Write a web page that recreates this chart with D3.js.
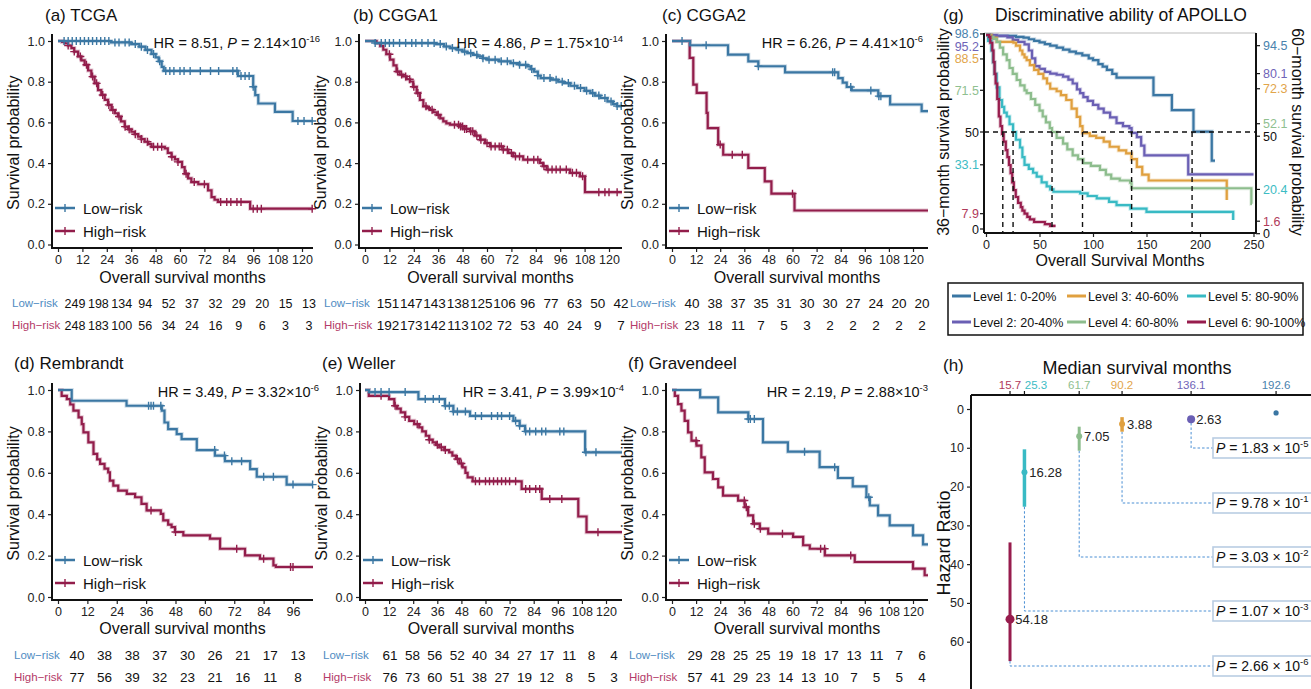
<!DOCTYPE html>
<html><head><meta charset="utf-8">
<script src="https://cdn.jsdelivr.net/npm/d3@7"></script>
<style>body{margin:0;background:#fff}</style>
</head><body><script>
// ---------------- DATA ----------------
const panelTitles = ["(a) TCGA","(b) CGGA1","(c) CGGA2","(d) Rembrandt","(e) Weller","(f) Gravendeel"];
const hrValues = ["8.51","4.86","6.26","3.49","3.41","2.19"];
const pMantissa = ["2.14","1.75","4.41","3.32","3.99","2.88"];
const pExponent = ["-16","-14","-6","-6","-4","-3"];
const ticks120 = [0,12,24,36,48,60,72,84,96,108,120];
const ticks96 = [0,12,24,36,48,60,72,84,96];
const yTicks = [0,0.2,0.4,0.6,0.8,1.0];
const groupNames = ["Low\u2212risk","High\u2212risk"];

// KM step data: [month, survival]
const tcgaLow = [[0,1],[26,0.993],[36,0.985],[40,0.972],[43,0.956],[46,0.936],[48,0.92],[49.5,0.9],[51,0.873],[52,0.853],[88.5,0.828],[96,0.775],[97,0.734],[98.5,0.693],[106.7,0.652],[115.4,0.607]];
const tcgaHigh = [[0,1],[2,0.995],[3.3,0.989],[5,0.978],[6.6,0.965],[8,0.948],[9.9,0.924],[11.5,0.905],[13.1,0.883],[14.8,0.855],[16.4,0.825],[18,0.792],[19.7,0.759],[21.3,0.735],[23,0.711],[24.6,0.686],[26.3,0.661],[28,0.645],[29.5,0.629],[31,0.605],[32.8,0.579],[34.5,0.566],[36.1,0.554],[37.7,0.542],[39.4,0.53],[41,0.518],[42.6,0.505],[44.3,0.493],[46,0.48],[52.5,0.472],[54,0.45],[55.8,0.431],[57.5,0.418],[59,0.406],[61,0.38],[62.3,0.348],[64,0.325],[65.6,0.307],[69,0.296],[73.8,0.266],[75.5,0.233],[77,0.22],[78.7,0.209],[94.5,0.176]];
const tcgaLowCensor = [3,5,7,9,11,13,15,17,19,21,23,25,28,30,33,35,38,41,44,47,50,53,55,57,60,62,65,70,75,79,86,88,90,92,94,96,118,121,125];
const tcgaHighCensor = [5,8,11,14,17,19,22,25,27,30,33,35,38,41,44,47,49,51,56,59,63,67,72,80,83,85,88,90,96,98,100,125];

const cgga1Low = [[0,1],[5,0.99],[35,0.985],[38.9,0.973],[42,0.965],[45.4,0.957],[48,0.948],[50.3,0.94],[53,0.932],[55.3,0.924],[58,0.915],[60.2,0.908],[66,0.9],[71.6,0.891],[76,0.883],[79.8,0.875],[81.5,0.862],[83.1,0.85],[85,0.83],[86.4,0.818],[91.3,0.81],[95,0.8],[97.8,0.793],[101,0.78],[104.4,0.769],[108,0.755],[110.9,0.744],[113,0.732],[115.8,0.72],[119.2,0.703],[122,0.69],[124,0.68]];
const cgga1High = [[0,1],[5.7,0.99],[7.5,0.975],[9,0.957],[10.5,0.935],[12.3,0.908],[14,0.88],[15.5,0.85],[17,0.835],[18.8,0.826],[20.5,0.812],[22.1,0.801],[23.7,0.775],[25.4,0.744],[27,0.71],[28.7,0.679],[30.3,0.67],[31.9,0.662],[33.6,0.65],[35.3,0.637],[37,0.62],[38.5,0.605],[40,0.595],[41.8,0.589],[46.7,0.58],[49,0.568],[51.6,0.556],[54,0.535],[56.6,0.515],[59,0.498],[61.5,0.482],[68,0.466],[70.5,0.45],[72.9,0.433],[77.8,0.417],[86,0.401],[87.5,0.385],[89.3,0.368],[100.8,0.352],[105.7,0.335],[108.2,0.257]];
const cgga1LowCensor = [5,8,10,12,14,17,20,23,25,28,31,34,37,40,43,46,49,52,55,58,61,64,67,70,73,76,79,82,85,88,91,94,97,100,103,106,109,112,115,118,121,124,126];
const cgga1HighCensor = [12,16,18,20,22,24,26,30,33,36,44,46,47,48,49,50,52,53,55,57,60,62,64,66,67,68,70,72,74,76,80,83,85,88,90,92,94,96,99,102,104,107,115,118,120,124];

const cgga2Low = [[0,1],[9,0.979],[27.9,0.933],[38,0.9],[43,0.876],[56.3,0.846],[82.8,0.818],[85,0.795],[87,0.774],[89.5,0.757],[102.7,0.729],[108.6,0.688],[124.3,0.655]];
const cgga2High = [[0,1],[8.8,0.917],[10.6,0.786],[12.3,0.745],[17.2,0.647],[17.8,0.572],[23,0.491],[25.5,0.441],[38,0.376],[46.2,0.31],[49.5,0.25],[61,0.167]];
const cgga2LowCensor = [5,17,43,80,81,89,99,103,104];
const cgga2HighCensor = [24,30,35,60];

const rembLow = [[0,1],[5.6,0.948],[28,0.924],[42.4,0.9],[43.5,0.843],[45,0.811],[48.5,0.787],[50.5,0.763],[56.7,0.71],[64.1,0.683],[68.2,0.656],[78.5,0.618],[81.2,0.581],[93.4,0.543]];
const rembHigh = [[0,1],[1.5,0.972],[3.6,0.956],[5,0.93],[6.3,0.9],[8.4,0.868],[9.7,0.835],[10.4,0.795],[12.4,0.747],[14.5,0.691],[16,0.665],[17.2,0.643],[19,0.62],[20.5,0.602],[21.2,0.562],[22.6,0.538],[24.6,0.514],[28.1,0.498],[31.5,0.482],[34.1,0.45],[36.2,0.418],[42,0.402],[43,0.37],[45,0.35],[46.4,0.338],[47.8,0.314],[51.2,0.298],[62.1,0.282],[66.2,0.233],[76.4,0.201],[82.5,0.185],[88,0.153],[89,0.145]];
const rembLowCensor = [37,38,39,42,64,68,71,75,84,88,96,104];
const rembHighCensor = [38,48,73,84,95,96];

const wellerLow = [[0,1],[2,0.99],[26.6,0.956],[39.8,0.924],[44,0.896],[52.3,0.875],[73.9,0.851],[77,0.827],[79.7,0.8],[109.6,0.699]];
const wellerHigh = [[0,1],[1.9,0.972],[12,0.956],[14.6,0.924],[16,0.91],[17.8,0.892],[20,0.87],[22,0.851],[24.5,0.835],[27,0.819],[28.5,0.8],[30.3,0.779],[32,0.76],[33.7,0.747],[35.3,0.735],[37,0.723],[39.5,0.71],[41.9,0.699],[43.5,0.683],[45.3,0.667],[47,0.645],[48.6,0.626],[50,0.6],[51.1,0.578],[53.6,0.559],[78,0.522],[88,0.474],[106.2,0.389],[110.3,0.313]];
const wellerLowCensor = [5,8,12,20,30,34,37,40,42,44,46,50,55,58,63,66,68,72,75,77,80,82,85,88,90,97,99,110,115];
const wellerHighCensor = [8,15,20,26,32,36,38,40,46,48,55,57,60,62,64,66,68,70,72,75,80,82,85,87,92,98,116];

const gravLow = [[0,1],[14,0.964],[23,0.892],[38,0.86],[45.3,0.747],[57.7,0.702],[73.5,0.627],[82.6,0.575],[90,0.534],[96.8,0.482],[98.5,0.442],[102.6,0.394],[108.4,0.346],[120,0.298],[125,0.254]];
const gravHigh = [[0,1],[1.4,0.972],[3,0.932],[4.7,0.9],[6.3,0.851],[8,0.795],[9.7,0.755],[12.2,0.731],[14.6,0.675],[16.3,0.602],[20.4,0.57],[23,0.53],[25.4,0.49],[32.9,0.466],[36.2,0.434],[37.9,0.394],[40.4,0.354],[43.7,0.33],[47.9,0.306],[60.3,0.29],[65.3,0.25],[68.6,0.233],[76.1,0.201],[91,0.169],[120,0.137],[125.8,0.105]];
const gravLowCensor = [38,39,41,66,81,98];
const gravHighCensor = [12,36,37,41,44,55,74,76,89];

// Numbers at risk
const tcgaRiskLow = [249,198,134,94,52,37,32,29,20,15,13];
const tcgaRiskHigh = [248,183,100,56,34,24,16,9,6,3,3];
const cgga1RiskLow = [151,147,143,138,125,106,96,77,63,50,42];
const cgga1RiskHigh = [192,173,142,113,102,72,53,40,24,9,7];
const cgga2RiskLow = [40,38,37,35,31,30,30,27,24,20,20];
const cgga2RiskHigh = [23,18,11,7,5,3,2,2,2,2,2];
const rembRiskLow = [40,38,38,37,30,26,21,17,13];
const rembRiskHigh = [77,56,39,32,23,21,16,11,8];
const wellerRiskLow = [61,58,56,52,40,34,27,17,11,8,4];
const wellerRiskHigh = [76,73,60,51,38,27,19,12,8,5,3];
const gravRiskLow = [29,28,25,25,19,18,17,13,11,7,6];
const gravRiskHigh = [57,41,29,23,14,13,10,7,5,5,4];

// Panel (g): APOLLO levels
const levelNames = ["Level 1: 0-20%","Level 2: 20-40%","Level 3: 40-60%","Level 4: 60-80%","Level 5: 80-90%","Level 6: 90-100%"];
const level1 = [[0,100],[5,99.5],[28,99],[35,98.6],[40,97.8],[45,97],[50,96.2],[55,95.3],[60,94.5],[66,93.5],[72,92.5],[78,91.4],[84,90.5],[90,89.5],[96,88],[100,87],[105,85],[109,83.7],[113,82],[118,80],[122,78],[156.5,69],[173.7,61.3],[193.9,50.2],[211,35.2]];
const level2 = [[0,100],[10,99.5],[20,98.8],[25,97.5],[30,96.5],[36,95.2],[40,92],[43,88],[46,84],[50,82.5],[55,81],[60,80.1],[66,79.5],[72,78.5],[77,77],[81,75],[85,72],[88,70],[91,68],[95,66],[100,64],[105,62],[110,60],[116,57.5],[122,54.6],[128,53],[134,52],[136.1,49.5],[141,47.4],[145,43],[148,38],[189,28.2]];
const level3 = [[0,100],[5,98.5],[10,96.5],[25.6,96],[28,94.5],[31.8,92],[34,90],[36,88.5],[38,87],[41,84.5],[45,82],[49,80],[53.6,77.6],[57,75],[60,72.3],[66,71],[70,69],[75,66.5],[80,62],[84.8,57.8],[88,53],[90.2,49.4],[97,48],[103,47],[110,45],[115.6,42.4],[124,40.5],[131,39],[136,36],[141,32],[146,28],[152,25],[225,15]];
const level4 = [[0,100],[3.7,99],[7,98],[10,96.5],[13,93.5],[16,90],[19.4,87],[22,83],[25,80],[28.7,76.8],[32,74],[36,71.5],[38,70],[42,67],[46,64],[50,61],[53,58],[56,55],[59.6,52],[61.7,50],[66,47],[72,44],[76,41],[81,38],[86,36],[91,34],[98,32.5],[106.5,30.5],[112,28],[117,26],[125,25],[134.7,23.9],[136,21],[248,13]];
const level5 = [[0,100],[2,97],[5,92],[6.5,86],[8,80],[10,73],[12.6,66.5],[15,63],[17,60],[19.4,58],[22,54],[25.3,50],[28,46],[31.8,42],[34,37],[36,33.1],[40,31],[44,29],[47.4,27],[52,24],[56.7,22],[60,20.4],[63,19.2],[88,18.4],[95,17],[103.5,15.8],[115,14],[122,12.3],[135,10.5],[150,8.8],[231,4.6]];
const level6 = [[0,100],[2.8,99],[4,96],[5.9,92],[7,86],[8,80],[9,75],[10.5,67],[12,58],[13.5,53],[15,49],[16.5,45],[18.5,40.7],[20,37],[21.5,33],[23,28.8],[24.5,24],[26,20],[27.8,16.5],[30,13.5],[32.5,11.3],[34,9.5],[36,7.9],[38.6,6.2],[41,5],[45,3.6],[55,2.5],[60,1.6]];
const levelLastTime = [214,250,225,248.5,231,65];
const surv36Labels = [98.6,95.2,88.5,71.5,33.1,7.9];
const surv60Labels = [94.5,80.1,72.3,52.1,20.4,1.6];
const gXTicks = [0,50,100,150,200,250];

// Panel (h)
const medianMonths = [192.6,136.1,90.2,61.7,25.3,15.7];
const hazardRatio = [1,2.63,3.88,7.05,16.28,54.18];
const hrLower = [1,1.8,2.1,4.56,10.4,34.4];
const hrUpper = [1,3.6,5.85,10.75,25.2,65];
const hrYTicks = [0,10,20,30,40,50,60];
const pBoxMantissa = ["1.83","9.78","3.03","1.07","2.66"];
const pBoxExponent = ["-5","-1","-2","-3","-6"];

// ---------------- STYLE / LAYOUT ----------------
const FONT = "'Liberation Sans', Arial, Helvetica, sans-serif";
const LOW_COL = "#3b77a3", HIGH_COL = "#921d4b";
const LOW_LBL = "#4f8cc2", HIGH_LBL = "#b43b69";
const levelColors = ["#3a76a3","#6a5fb4","#e0a03f","#8dbd8d","#38bac4","#971c4d"];
const levelLabelColors = ["#4a82ad","#6f64b8","#e2a54a","#8fc08f","#3cbcc4","#b03a5b"];

const rows = [
  {y1:41, y0:244.5, axY:248, axTop:34, tickLblY:262, titleY:283, legLow:208, legHigh:231, riskLow:308, riskHigh:330, titleBase:21, hrY:48},
  {y1:390, y0:597, axY:600, axTop:383, tickLblY:616, titleY:634, legLow:560, legHigh:583, riskLow:660, riskHigh:682, titleBase:369, hrY:397}
];
const layout = [
  {tx:45, row:0, ax:52, x0:58, xT:302, tMax:120, xEnd:313, hrX:320, lblX:12, rx0:75, rxT:309, rf:12.5},
  {tx:353, row:0, ax:359, x0:365, xT:609, tMax:120, xEnd:622, hrX:623, lblX:324, rx0:388, rxT:621, rf:13.5},
  {tx:662, row:0, ax:666, x0:672, xT:913, tMax:120, xEnd:928, hrX:923, lblX:630, rx0:692, rxT:922, rf:13.5},
  {tx:14, row:1, ax:52, x0:58, xT:293, tMax:96, xEnd:313, hrX:319, lblX:14, rx0:77, rxT:298, rf:13.5},
  {tx:322, row:1, ax:360, x0:365, xT:606, tMax:120, xEnd:622, hrX:624, lblX:323, rx0:390, rxT:614, rf:13.5},
  {tx:628, row:1, ax:666, x0:672, xT:913, tMax:120, xEnd:928, hrX:928, lblX:629, rx0:695, rxT:922, rf:13.5}
];
const kmData = [
  [tcgaLow,tcgaHigh,tcgaLowCensor,tcgaHighCensor,tcgaRiskLow,tcgaRiskHigh,ticks120],
  [cgga1Low,cgga1High,cgga1LowCensor,cgga1HighCensor,cgga1RiskLow,cgga1RiskHigh,ticks120],
  [cgga2Low,cgga2High,cgga2LowCensor,cgga2HighCensor,cgga2RiskLow,cgga2RiskHigh,ticks120],
  [rembLow,rembHigh,rembLowCensor,rembHighCensor,rembRiskLow,rembRiskHigh,ticks96],
  [wellerLow,wellerHigh,wellerLowCensor,wellerHighCensor,wellerRiskLow,wellerRiskHigh,ticks120],
  [gravLow,gravHigh,gravLowCensor,gravHighCensor,gravRiskLow,gravRiskHigh,ticks120]
];

const svg = d3.select("body").append("svg").attr("width",1311).attr("height",689)
  .style("font-family", FONT);

function survAt(steps, t){ let s = steps[0][1]; for (const p of steps){ if (p[0] <= t) s = p[1]; } return s; }
function plus(g, cx, cy, r, col){
  g.append("path").attr("d",`M${cx-r},${cy}H${cx+r}M${cx},${cy-r}V${cy+r}`)
    .attr("stroke",col).attr("stroke-width",1.4).attr("fill","none");
}
function styleAxis(ag, size){
  ag.select(".domain").remove();
  ag.selectAll("text").attr("font-family",FONT).attr("font-size",size).attr("fill","#222");
  ag.selectAll("line").attr("stroke","#222").attr("stroke-width",1.2);
}

// ---------------- KM PANELS ----------------
function drawKM(i){
  const L = layout[i], R = rows[L.row];
  const [lowS, highS, lowC, highC, riskL, riskH, ticks] = kmData[i];
  const g = svg.append("g");
  const x = d3.scaleLinear().domain([0,L.tMax]).range([L.x0,L.xT]);
  const y = d3.scaleLinear().domain([0,1]).range([R.y0,R.y1]);
  const tEnd = x.invert(L.xEnd);

  g.append("text").attr("x",L.tx).attr("y",R.titleBase).attr("font-size",17).attr("fill","#111").text(panelTitles[i]);

  const xa = g.append("g").attr("transform",`translate(0,${R.axY})`)
    .call(d3.axisBottom(x).tickValues(ticks).tickSize(4).tickPadding(3));
  styleAxis(xa, 12.5);
  const ya = g.append("g").attr("transform",`translate(${L.ax},0)`)
    .call(d3.axisLeft(y).tickValues(yTicks).tickFormat(d3.format(".1f")).tickSize(4).tickPadding(3));
  styleAxis(ya, 12.5);
  g.append("line").attr("x1",L.ax).attr("x2",L.xEnd).attr("y1",R.axY).attr("y2",R.axY).attr("stroke","#111").attr("stroke-width",2);
  g.append("line").attr("x1",L.ax).attr("x2",L.ax).attr("y1",R.axTop).attr("y2",R.axY+1).attr("stroke","#111").attr("stroke-width",2);

  g.append("text").attr("x",(L.ax+L.xEnd)/2).attr("y",R.titleY).attr("text-anchor","middle").attr("font-size",16).attr("fill","#111").text("Overall survival months");
  g.append("text").attr("transform",`translate(${L.ax-33},${(R.y0+R.y1)/2}) rotate(-90)`).attr("text-anchor","middle").attr("font-size",16).attr("fill","#111").text("Survival probability");

  const line = d3.line().x(d=>x(d[0])).y(d=>y(d[1])).curve(d3.curveStepAfter);
  [[highS,highC,HIGH_COL],[lowS,lowC,LOW_COL]].forEach(([s,c,col])=>{
    const pts = s.concat([[tEnd, s[s.length-1][1]]]);
    g.append("path").attr("d",line(pts)).attr("fill","none").attr("stroke",col).attr("stroke-opacity",0.25).attr("stroke-width",4);
    g.append("path").attr("d",line(pts)).attr("fill","none").attr("stroke",col).attr("stroke-width",2.2);
    c.filter(t=>t<=tEnd).forEach(t=>plus(g, x(t), y(survAt(s,t)), 4, col));
  });

  // HR text
  const ht = g.append("text").attr("x",L.hrX).attr("y",R.hrY).attr("text-anchor","end").attr("font-size",14.5).attr("fill","#111");
  ht.append("tspan").text(`HR = ${hrValues[i]}, `);
  ht.append("tspan").attr("font-style","italic").text("P");
  ht.append("tspan").text(` = ${pMantissa[i]}\u00d710`);
  ht.append("tspan").attr("font-size",9.5).attr("dy",-6).text(pExponent[i]);

  // legend
  [[R.legLow,LOW_COL,groupNames[0]],[R.legHigh,HIGH_COL,groupNames[1]]].forEach(([ly,col,name])=>{
    g.append("line").attr("x1",L.ax+3).attr("x2",L.ax+23).attr("y1",ly).attr("y2",ly).attr("stroke",col).attr("stroke-width",2.5);
    plus(g, L.ax+13, ly, 4, col);
    g.append("text").attr("x",L.ax+31).attr("y",ly+5.5).attr("font-size",15).attr("fill","#111").text(name);
  });

  // risk table
  const rx = d3.scaleLinear().domain([0,L.tMax]).range([L.rx0,L.rxT]);
  [[R.riskLow,riskL,LOW_LBL,groupNames[0]],[R.riskHigh,riskH,HIGH_LBL,groupNames[1]]].forEach(([ry,vals,col,name])=>{
    g.append("text").attr("x",L.lblX).attr("y",ry-1).attr("font-size",11.5).attr("fill",col).text(name);
    g.selectAll(null).data(vals).enter().append("text")
      .attr("x",(d,k)=>rx(ticks[k])).attr("y",ry).attr("text-anchor","middle")
      .attr("font-size",L.rf).attr("fill","#111").text(d=>d);
  });
}
for (let i=0;i<6;i++) drawKM(i);

// ---------------- PANEL (g) ----------------
(function(){
  const g = svg.append("g");
  const gx = d3.scaleLinear().domain([0,250]).range([986,1253.5]);
  const gy = d3.scaleLinear().domain([0,100]).range([229,35]);
  const left=984, right=1256, top=33, bottom=233;
  g.append("text").attr("x",943).attr("y",21).attr("font-size",17).attr("fill","#111").text("(g)");
  g.append("text").attr("x",1121).attr("y",21).attr("text-anchor","middle").attr("font-size",17.5).attr("fill","#111").text("Discriminative ability of APOLLO");
  g.append("line").attr("x1",left).attr("x2",right).attr("y1",top).attr("y2",top).attr("stroke","#bbb").attr("stroke-width",1);

  const levels = [level1,level2,level3,level4,level5,level6];
  const line = d3.line().x(d=>gx(d[0])).y(d=>gy(d[1])).curve(d3.curveStepAfter);
  levels.forEach((s,k)=>{
    const pts = s.concat([[levelLastTime[k], s[s.length-1][1]]]);
    g.append("path").attr("d",line(pts)).attr("fill","none").attr("stroke",levelColors[k]).attr("stroke-opacity",0.25).attr("stroke-width",4);
    g.append("path").attr("d",line(pts)).attr("fill","none").attr("stroke",levelColors[k]).attr("stroke-width",2.2);
  });
  // dashed guides
  g.append("line").attr("x1",left).attr("x2",right).attr("y1",gy(50)).attr("y2",gy(50)).attr("stroke","#111").attr("stroke-width",1.4).attr("stroke-dasharray","5,4");
  medianMonths.forEach(m=>{
    g.append("line").attr("x1",gx(m)).attr("x2",gx(m)).attr("y1",gy(50)).attr("y2",bottom).attr("stroke","#111").attr("stroke-width",1.4).attr("stroke-dasharray","5,4");
  });
  // axes
  const xa = g.append("g").attr("transform",`translate(0,${bottom})`).call(d3.axisBottom(gx).tickValues(gXTicks).tickSize(4).tickPadding(3));
  styleAxis(xa, 12.5);
  g.append("line").attr("x1",left).attr("x2",right).attr("y1",bottom).attr("y2",bottom).attr("stroke","#111").attr("stroke-width",2);
  g.append("line").attr("x1",left).attr("x2",left).attr("y1",top).attr("y2",bottom).attr("stroke","#111").attr("stroke-width",2);
  g.append("line").attr("x1",right).attr("x2",right).attr("y1",top).attr("y2",bottom).attr("stroke","#111").attr("stroke-width",2);

  function repel(items, gap){
    items.sort((a,b)=>a.y-b.y);
    for (let it=0; it<60; it++){
      for (let i=0;i<items.length-1;i++){
        const d = items[i+1].y - items[i].y;
        if (d < gap){ const s=(gap-d)/2; items[i].y-=s; items[i+1].y+=s; }
      }
    }
    return items;
  }
  const leftItems = surv36Labels.map((v,k)=>({v, y:gy(v), col:levelLabelColors[k]}))
    .concat([{v:50,y:gy(50),col:"#111"},{v:0,y:gy(0),col:"#111"}]);
  const rightItems = surv60Labels.map((v,k)=>({v, y:gy(v), col:levelLabelColors[k]}))
    .concat([{v:50,y:gy(50),col:"#111"},{v:0,y:gy(0),col:"#111"}]);
  repel(leftItems, 12.5).forEach(d=>{
    g.append("line").attr("x1",left-4).attr("x2",left).attr("y1",d.y).attr("y2",d.y).attr("stroke","#111").attr("stroke-width",1.2);
    g.append("text").attr("x",left-5).attr("y",d.y+4.5).attr("text-anchor","end").attr("font-size",12.5).attr("fill",d.col).text(d.v);
  });
  repel(rightItems, 12.5).forEach(d=>{
    g.append("line").attr("x1",right).attr("x2",right+4).attr("y1",d.y).attr("y2",d.y).attr("stroke","#111").attr("stroke-width",1.2);
    g.append("text").attr("x",right+7).attr("y",d.y+4.5).attr("font-size",12.5).attr("fill",d.col).text(d.v);
  });
  g.append("text").attr("x",(left+right)/2).attr("y",266).attr("text-anchor","middle").attr("font-size",16).attr("fill","#111").text("Overall Survival Months");
  g.append("text").attr("transform",`translate(949,132) rotate(-90)`).attr("text-anchor","middle").attr("font-size",16).attr("fill","#111").text("36\u2212month survival probability");
  g.append("text").attr("transform",`translate(1292,132) rotate(90)`).attr("text-anchor","middle").attr("font-size",16).attr("fill","#111").text("60\u2212month survival probability");

  // legend box
  g.append("rect").attr("x",948).attr("y",283).attr("width",355).attr("height",52).attr("fill","#fff").attr("stroke","#111").attr("stroke-width",1.5);
  const colX = [952,1067,1187], rowY = [296,322];
  levelNames.forEach((n,k)=>{
    const cx = colX[Math.floor(k/2)], cy = rowY[k%2];
    g.append("line").attr("x1",cx).attr("x2",cx+19).attr("y1",cy).attr("y2",cy).attr("stroke",levelColors[k]).attr("stroke-width",3);
    g.append("text").attr("x",cx+21).attr("y",cy+4.5).attr("font-size",12.5).attr("fill","#111").text(n);
  });
})();

// ---------------- PANEL (h) ----------------
(function(){
  const g = svg.append("g");
  const hx = d3.scaleLinear().domain([0,200]).range([986.4, 986.4+200*1.504]);
  const hy = d3.scaleLinear().domain([0,60]).range([409,641.7]);
  const axL = 971, axT = 395;
  g.append("text").attr("x",943).attr("y",371).attr("font-size",17).attr("fill","#111").text("(h)");
  g.append("text").attr("x",1137).attr("y",374).attr("text-anchor","middle").attr("font-size",18).attr("fill","#111").text("Median survival months");
  g.append("line").attr("x1",axL).attr("x2",1311).attr("y1",axT).attr("y2",axT).attr("stroke","#111").attr("stroke-width",2);
  g.append("line").attr("x1",axL).attr("x2",axL).attr("y1",axT).attr("y2",689).attr("stroke","#111").attr("stroke-width",2);
  // top tick labels, pushed right when they would collide
  const topItems = medianMonths.map((m,k)=>({m, k, x:hx(m)})).sort((a,b)=>a.x-b.x);
  for (let i=1;i<topItems.length;i++){
    if (topItems[i].x - topItems[i-1].x < 26) topItems[i].x = topItems[i-1].x + 26;
  }
  topItems.forEach(d=>{
    g.append("line").attr("x1",hx(d.m)).attr("x2",hx(d.m)).attr("y1",axT-4).attr("y2",axT).attr("stroke","#111").attr("stroke-width",1.2);
    g.append("text").attr("x",d.x).attr("y",388.5).attr("text-anchor","middle").attr("font-size",11.5).attr("fill",levelLabelColors[d.k]).text(d.m);
  });
  const ya = g.append("g").attr("transform",`translate(${axL},0)`).call(d3.axisLeft(hy).tickValues(hrYTicks).tickSize(4).tickPadding(3));
  styleAxis(ya, 12.5);
  g.append("text").attr("transform",`translate(950,543) rotate(-90)`).attr("text-anchor","middle").attr("font-size",18).attr("fill","#111").text("Hazard Ratio");

  const barW = [0,3,3.5,3,3.5,3];
  const ptR = [2.6,4,3,3,3,4.5];
  const boxY = [448,503,557,611,666];
  // connectors + boxes
  for (let k=1;k<6;k++){
    const xm = hx(medianMonths[k]), yb = boxY[k-1];
    g.append("path").attr("d",`M${xm},${hy(hrUpper[k])}V${yb}H1213`).attr("fill","none")
      .attr("stroke","#4a8fd4").attr("stroke-width",1).attr("stroke-dasharray","2.5,2");
    g.append("rect").attr("x",1213).attr("y",yb-10).attr("width",130).attr("height",20).attr("fill","#fff").attr("stroke","#b9cde3").attr("stroke-width",1.6);
    const t = g.append("text").attr("x",1216).attr("y",yb+5).attr("font-size",14).attr("fill","#111");
    t.append("tspan").attr("font-style","italic").text("P");
    t.append("tspan").text(` = ${pBoxMantissa[k-1]} \u00d7 10`);
    t.append("tspan").attr("font-size",9.5).attr("dy",-6).text(pBoxExponent[k-1]);
  }
  for (let k=0;k<6;k++){
    const xm = hx(medianMonths[k]);
    if (k>0) g.append("line").attr("x1",xm).attr("x2",xm).attr("y1",hy(hrLower[k])).attr("y2",hy(hrUpper[k])).attr("stroke",levelColors[k]).attr("stroke-width",barW[k]);
    g.append("circle").attr("cx",xm).attr("cy",hy(hazardRatio[k])).attr("r",ptR[k]).attr("fill",levelColors[k]);
    if (k>0) g.append("text").attr("x",xm+4+ptR[k]*0.3).attr("y",hy(hazardRatio[k])+4.5).attr("font-size",13).attr("fill","#222").text(hazardRatio[k].toFixed(2));
  }
})();
</script></body></html>
